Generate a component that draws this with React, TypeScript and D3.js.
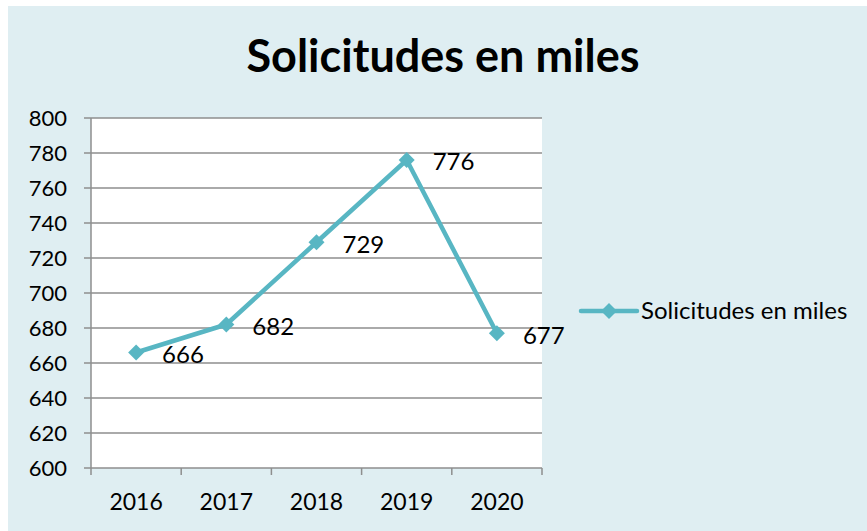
import React from "react";
import * as d3 from "d3";

const years = ["2016", "2017", "2018", "2019", "2020"];
const values = [666, 682, 729, 776, 677];
const yTicks = [600, 620, 640, 660, 680, 700, 720, 740, 760, 780, 800];
const seriesName = "Solicitudes en miles";
const title = "Solicitudes en miles";

const W = 867;
const H = 531;
const FONT = "Lato, 'Open Sans', sans-serif";
const COLOR = "#58B6C3";

export default function App() {
  const left = 91, right = 542, top = 118, bottom = 468;
  const x = d3.scaleBand<string>().domain(years).range([left, right]);
  const y = d3.scaleLinear().domain([600, 800]).range([bottom, top]);
  const cx = (d: string) => (x(d) as number) + x.bandwidth() / 2;
  const line = d3.line<number>().x((_, i) => cx(years[i])).y((v) => y(v));
  const r = 8;
  const diamond = `M0,${-r}L${r},0L0,${r}L${-r},0Z`;
  const boundaries = [...years.map((d) => x(d) as number), right];

  return (
    <svg width={W} height={H} style={{ position: "absolute", left: 0, top: 0 }}>
      <rect x={8} y={6} width={W - 8} height={H - 6} fill="#DFEEF2" />
      <text x={443} y={72} textAnchor="middle" fontFamily={FONT} fontWeight="bold" fontSize={45} fill="#000">{title}</text>
      <rect x={left} y={top} width={right - left} height={bottom - top} fill="#fff" />
      {yTicks.map((t) => (
        <g key={t}>
          <line x1={left - 7} x2={right} y1={y(t)} y2={y(t)} stroke="#8E8E8E" strokeWidth={1.5} />
          <text x={67} y={y(t)} dy="0.35em" textAnchor="end" fontFamily={FONT} fontSize={22} fill="#000">{t}</text>
        </g>
      ))}
      <line x1={left} x2={left} y1={top} y2={bottom} stroke="#8E8E8E" strokeWidth={1.5} />
      {boundaries.map((b, i) => (
        <line key={i} x1={b} x2={b} y1={bottom} y2={bottom + 7} stroke="#8E8E8E" strokeWidth={1.5} />
      ))}
      {years.map((d) => (
        <text key={d} x={cx(d)} y={502} dy="0.35em" textAnchor="middle" fontFamily={FONT} fontSize={23} fill="#000">{d}</text>
      ))}
      <path d={line(values) || ""} fill="none" stroke={COLOR} strokeWidth={4.5} strokeLinejoin="round" />
      {values.map((v, i) => (
        <g key={i}>
          <path d={diamond} transform={`translate(${cx(years[i])},${y(v)})`} fill={COLOR} />
          <text x={cx(years[i]) + 26} y={y(v) + 2} dy="0.35em" fontFamily={FONT} fontSize={24} fill="#000">{v}</text>
        </g>
      ))}
      <line x1={581} x2={637} y1={311} y2={311} stroke={COLOR} strokeWidth={4.5} strokeLinecap="round" />
      <path d={diamond} transform="translate(609,311)" fill={COLOR} />
      <text x={641} y={311} dy="0.35em" fontFamily={FONT} fontSize={24} fill="#000">{seriesName}</text>
    </svg>
  );
}
